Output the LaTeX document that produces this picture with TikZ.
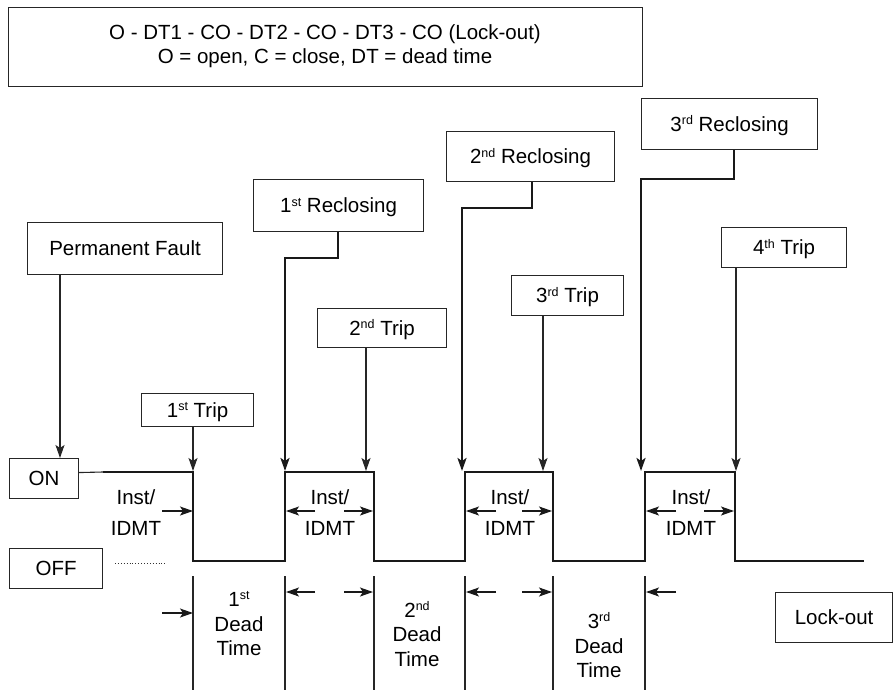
\documentclass[tikz,border=0pt]{standalone}
\usepackage{fontspec}
\setmainfont{Liberation Sans}
\usetikzlibrary{arrows.meta}
\newcommand\sups[1]{\raisebox{6.6pt}{\fontsize{12.5}{14}\selectfont #1}}
\begin{document}
\begin{tikzpicture}[x=1pt,y=-1pt,
  font=\fontsize{20.5}{24}\selectfont,
  box/.style={draw=black!85, line width=1.1pt, inner sep=0pt, text height=14.7pt, text depth=0pt, anchor=north west},
  lbl/.style={anchor=base, inner sep=0pt},
  thin/.style={line width=1.1pt, draw=black!85},
  thick/.style={line width=2.3pt, draw=black!90},
  wave/.style={line width=2.5pt, draw=black!90, line join=miter},
  tip/.style={-{Stealth[length=13pt,width=9pt,inset=3pt]}},
  harr/.style={line width=1.3pt, draw=black!90, -{Stealth[length=13pt,width=9pt,inset=3pt]}}
]
\useasboundingbox (0,0) rectangle (893,690);

% header box
\node[box, minimum width=634pt, minimum height=79pt] (hdr) at (8,7) {};
\node[lbl] (hdr1) at (325,40) {O - DT1 - CO - DT2 - CO - DT3 - CO (Lock-out)};
\node[lbl] (hdr2) at (325,64) {O = open, C = close, DT = dead time};

% event boxes
\node[box, minimum width=195pt, minimum height=52pt] (pf) at (27,222) {Permanent Fault};
\node[box, minimum width=69pt, minimum height=40pt] (on) at (9,458) {ON};
\node[box, minimum width=93pt, minimum height=40pt] (off) at (9,548) {OFF};
\node[box, minimum width=112pt, minimum height=33pt] (t1) at (141,393) {1\sups{st} Trip};
\node[box, minimum width=170pt, minimum height=52pt] (r1) at (253,179) {1\sups{st} Reclosing};
\node[box, minimum width=129pt, minimum height=39pt] (t2) at (317,308) {2\sups{nd} Trip};
\node[box, minimum width=112pt, minimum height=40pt] (t3) at (511,275) {3\sups{rd} Trip};
\node[box, minimum width=168pt, minimum height=50pt] (r2) at (446,131) {2\sups{nd} Reclosing};
\node[box, minimum width=176pt, minimum height=51pt] (r3) at (641,98) {3\sups{rd} Reclosing};
\node[box, minimum width=125pt, minimum height=40pt] (t4) at (721,227) {4\sups{th} Trip};
\node[box, minimum width=117pt, minimum height=50pt] (lo) at (775,592) {Lock-out};

% waveform corner points
\coordinate (w0) at (103,472);
\coordinate (a1) at (193,472); \coordinate (b1) at (193,561);
\coordinate (a2) at (285,561); \coordinate (b2) at (285,472);
\coordinate (a3) at (374,472); \coordinate (b3) at (374,561);
\coordinate (a4) at (465,561); \coordinate (b4) at (465,472);
\coordinate (a5) at (553,472); \coordinate (b5) at (553,561);
\coordinate (a6) at (645,561); \coordinate (b6) at (645,472);
\coordinate (a7) at (735,472); \coordinate (b7) at (735,561);
\coordinate (wend) at (864,561);

\draw[thin] ([yshift=6pt]on.east) -- (w0);
\draw[wave] (w0) -- (a1) -- (b1) -- (a2) -- (b2) -- (a3) -- (b3) -- (a4) -- (b4) -- (a5) -- (b5) -- (a6) -- (b6) -- (a7) -- (b7) -- (wend);

% dotted OFF level
\coordinate (d0) at (115,563); \coordinate (d1) at (165,563);
\draw[line width=0.9pt, dotted, black!80] (d0) -- (d1);

% connectors from event boxes
\coordinate (pfend) at (60,458);
\draw[thin, tip] (pf.south -| pfend) -- (pfend);
\coordinate (t1end) at (193,471);
\draw[thin, tip] (t1.south -| t1end) -- (t1end);
\coordinate (t2end) at (366,471);
\draw[thin, tip] (t2.south -| t2end) -- (t2end);
\coordinate (t3end) at (543,471);
\draw[thin, tip] (t3.south -| t3end) -- (t3end);
\coordinate (t4end) at (736,471);
\draw[thin, tip] (t4.south -| t4end) -- (t4end);

\coordinate (r1k) at (338,258); \coordinate (r1end) at (285,471);
\draw[thick, tip] (r1.south -| r1k) -- (r1k) -- (r1k -| r1end) -- (r1end);
\coordinate (r2k) at (532,208); \coordinate (r2end) at (462,471);
\draw[thick, tip] (r2.south -| r2k) -- (r2k) -- (r2k -| r2end) -- (r2end);
\coordinate (r3k) at (734,179); \coordinate (r3end) at (641,471);
\draw[thick, tip] (r3.south -| r3k) -- (r3k) -- (r3k -| r3end) -- (r3end);

% Inst/IDMT labels
\node[lbl] (i0a) at (136,504) {Inst/};
\node[lbl] (i0b) at (136,535) {IDMT};
\node[lbl] (i1a) at (330,504) {Inst/};
\node[lbl] (i1b) at (330,535) {IDMT};
\node[lbl] (i2a) at (510,504) {Inst/};
\node[lbl] (i2b) at (510,535) {IDMT};
\node[lbl] (i3a) at (691,504) {Inst/};
\node[lbl] (i3b) at (691,535) {IDMT};

% Inst/IDMT arrows
\coordinate (p0s) at (162,511); \coordinate (p0e) at (193,511);
\draw[harr] (p0s) -- (p0e);
\coordinate (p1l) at (315,511); \coordinate (p1le) at (286,511);
\coordinate (p1r) at (344,511); \coordinate (p1re) at (373,511);
\draw[harr] (p1l) -- (p1le); \draw[harr] (p1r) -- (p1re);
\coordinate (p2l) at (496,511); \coordinate (p2le) at (466,511);
\coordinate (p2r) at (522,511); \coordinate (p2re) at (552,511);
\draw[harr] (p2l) -- (p2le); \draw[harr] (p2r) -- (p2re);
\coordinate (p3l) at (676,511); \coordinate (p3le) at (646,511);
\coordinate (p3r) at (704,511); \coordinate (p3re) at (734,511);
\draw[harr] (p3l) -- (p3le); \draw[harr] (p3r) -- (p3re);

% dead time markers
\foreach \x/\n in {193/v1,285/v2,374/v3,465/v4,553/v5,645/v6}{
  \coordinate (\n t) at (\x,576); \coordinate (\n b) at (\x,690);
  \draw[thin] (\n t) -- (\n b);
}
\coordinate (q0s) at (162,613); \coordinate (q0e) at (193,613);
\draw[harr] (q0s) -- (q0e);
\coordinate (q1l) at (315,592); \coordinate (q1le) at (286,592);
\coordinate (q1r) at (344,592); \coordinate (q1re) at (373,592);
\draw[harr] (q1l) -- (q1le); \draw[harr] (q1r) -- (q1re);
\coordinate (q2l) at (496,592); \coordinate (q2le) at (466,592);
\coordinate (q2r) at (522,592); \coordinate (q2re) at (552,592);
\draw[harr] (q2l) -- (q2le); \draw[harr] (q2r) -- (q2re);
\coordinate (q3l) at (676,592); \coordinate (q3le) at (646,592);
\draw[harr] (q3l) -- (q3le);

% dead time labels
\node[lbl] (dt1a) at (239,606) {1\sups{st}};
\node[lbl] (dt1b) at (239,631) {Dead};
\node[lbl] (dt1c) at (239,655) {Time};
\node[lbl] (dt2a) at (417,617) {2\sups{nd}};
\node[lbl] (dt2b) at (417,641) {Dead};
\node[lbl] (dt2c) at (417,666) {Time};
\node[lbl] (dt3a) at (599,628) {3\sups{rd}};
\node[lbl] (dt3b) at (599,653) {Dead};
\node[lbl] (dt3c) at (599,677) {Time};
\end{tikzpicture}
\end{document}
